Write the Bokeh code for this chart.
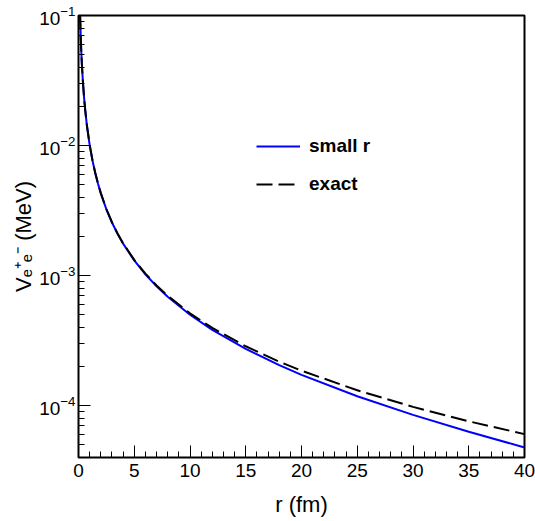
from bokeh.plotting import figure
from bokeh.models import Range1d, FixedTicker, SingleIntervalTicker, LogTickFormatter
from bokeh.embed import file_html
from bokeh.resources import INLINE

# ---- data ----
r_fm = [0.1, 0.15, 0.2, 0.25, 0.3, 0.4, 0.5, 0.6, 0.75, 1, 1.25, 1.5, 1.75, 2, 2.5,
        3, 3.5, 4, 5, 6, 7, 8, 10, 12, 15, 18, 20, 25, 30, 35, 40]
v_small = [0.1527, 0.09579, 0.06863, 0.05291, 0.04274, 0.03045, 0.02337, 0.01879,
           0.01437, 0.010137, 0.007712, 0.006155, 0.005080, 0.004296, 0.003238,
           0.002562, 0.002098, 0.0017614, 0.0013096, 0.0010236, 0.00082825, 0.0006875,
           0.0005002, 0.00038298, 0.00027321, 0.00020509, 0.00017284, 0.00011836,
           0.00008508, 0.00006311, 0.00004777]
v_exact = [0.1527, 0.09580, 0.06864, 0.05292, 0.04275, 0.03046, 0.02338, 0.01880,
           0.01438, 0.010151, 0.007725, 0.006169, 0.005094, 0.004310, 0.003251,
           0.002576, 0.002112, 0.0017749, 0.0013231, 0.0010371, 0.0008417, 0.0007009,
           0.0005136, 0.0003963, 0.0002865, 0.0002183, 0.0001860, 0.0001314,
           0.0000980, 0.0000759, 0.0000605]
series_labels = ["small r", "exact"]
x_title = "r (fm)"
y_title = "V\u2091\u207a\u2091\u207b (MeV)"
y_ticks = [1e-4, 1e-3, 1e-2, 1e-1]

FONT = "Liberation Sans"
Y_LO, Y_HI = 4e-5, 0.1

p = figure(width=535, height=521, output_backend="svg", toolbar_location=None,
           y_axis_type="log", x_range=Range1d(0, 40), y_range=Range1d(Y_LO, Y_HI),
           min_border_left=78, min_border_right=11, min_border_top=15,
           min_border_bottom=64)
p.background_fill_color = "white"
p.border_fill_color = "white"
p.outline_line_color = "black"
p.outline_line_width = 2
p.xgrid.visible = False
p.ygrid.visible = False

p.line(r_fm, v_small, line_color="#0000ff", line_width=2, legend_label=series_labels[0])
p.line(r_fm, v_exact, line_color="black", line_width=2, line_dash="16 6",
       legend_label=series_labels[1])

xa = p.xaxis[0]
xa.ticker = SingleIntervalTicker(interval=5, num_minor_ticks=5)
xa.axis_line_color = None
xa.major_tick_in = 12
xa.major_tick_out = 0
xa.minor_tick_in = 6
xa.minor_tick_out = 0
xa.major_tick_line_color = "black"
xa.minor_tick_line_color = "black"
xa.major_label_text_font = FONT
xa.major_label_text_font_size = "19px"
xa.major_label_text_color = "black"
xa.major_label_standoff = 6
xa.axis_label = x_title
xa.axis_label_text_font = FONT
xa.axis_label_text_font_size = "22px"
xa.axis_label_text_font_style = "normal"
xa.axis_label_text_color = "black"
xa.axis_label_standoff = 12

ya = p.yaxis[0]
minor = [k * t for t in y_ticks[:-1] for k in range(2, 10)] + [k * 1e-5 for k in range(4, 10)]
ya.ticker = FixedTicker(ticks=y_ticks, minor_ticks=minor)
ya.formatter = LogTickFormatter()
ya.major_label_standoff = 3
ya.major_label_text_font = FONT
ya.major_label_text_font_size = "19px"
ya.major_label_text_color = "black"
ya.axis_line_color = None
ya.major_tick_in = 12
ya.major_tick_out = 0
ya.minor_tick_in = 6
ya.minor_tick_out = 0
ya.major_tick_line_color = "black"
ya.minor_tick_line_color = "black"
ya.axis_label = y_title
ya.axis_label_text_font = FONT
ya.axis_label_text_font_size = "22px"
ya.axis_label_text_font_style = "normal"
ya.axis_label_text_color = "black"
ya.axis_label_standoff = 0

lg = p.legend[0]
lg.location = (178, 262)
lg.padding = 0
lg.margin = 0
lg.border_line_color = None
lg.background_fill_alpha = 0
lg.glyph_width = 44
lg.glyph_height = 20
lg.label_height = 20
lg.label_standoff = 9
lg.spacing = 16
lg.label_text_font = FONT
lg.label_text_font_size = "19px"
lg.label_text_font_style = "bold"
lg.label_text_color = "black"

open("out.html", "w").write(file_html(p, INLINE))
